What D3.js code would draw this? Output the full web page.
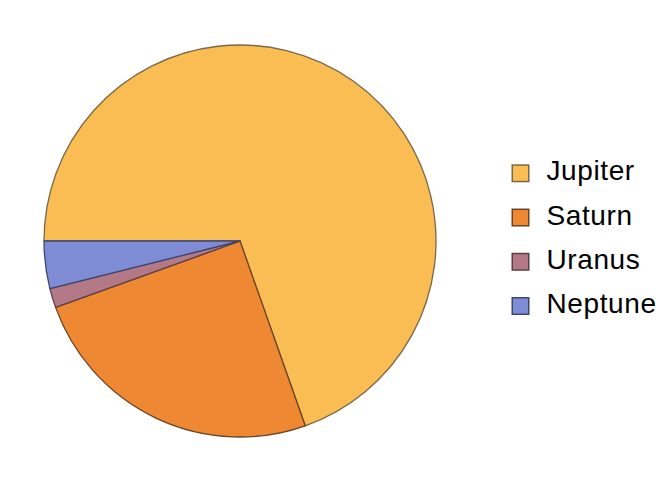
<!DOCTYPE html>
<html>
<head>
<meta charset="utf-8">
<script src="https://cdn.jsdelivr.net/npm/d3@7"></script>
<style>
html,body{margin:0;padding:0;background:#fff;}
svg{display:block;}
</style>
</head>
<body>
<svg id="chart" width="669" height="482"></svg>
<script>
const categories = ["Jupiter", "Saturn", "Uranus", "Neptune"];
const values = [69.6, 24.9, 1.6, 3.9];
const fills = ["#F9BD53", "#EE8833", "#B47986", "#7E8CD6"];
const strokes = ["#7a6848", "#6a4424", "#5c3f47", "#3f4672"];

const svg = d3.select("#chart");
const cx = 240, cy = 241, r = 196;

const pie = d3.pie().sort(null).value(d => d.v)
  .startAngle(-Math.PI / 2).endAngle(3 * Math.PI / 2);
const data = categories.map((c, i) => ({c, v: values[i], i}));
const arcs = pie(data);
const arc = d3.arc().innerRadius(0).outerRadius(r);

const g = svg.append("g").attr("transform", `translate(${cx},${cy})`);
g.selectAll("path").data(arcs).join("path")
  .attr("d", arc)
  .attr("fill", d => fills[d.data.i])
  .attr("stroke", d => strokes[d.data.i])
  .attr("stroke-width", 1.3)
  .attr("stroke-linejoin", "round");

const y = d3.scalePoint().domain(categories).range([173.3, 306]);
const leg = svg.append("g");
const items = leg.selectAll("g").data(categories).join("g")
  .attr("transform", d => `translate(0,${y(d)})`);
items.append("rect")
  .attr("x", 512.25).attr("y", -8.25).attr("width", 16.5).attr("height", 16.5)
  .attr("fill", (d, i) => fills[i])
  .attr("stroke", (d, i) => strokes[i])
  .attr("stroke-width", 1.5);
items.append("text")
  .attr("x", 546.5).attr("y", 7)
  .attr("font-family", "Liberation Sans, Arial, Helvetica, sans-serif")
  .attr("font-size", 28)
  .attr("letter-spacing", 0.6)
  .attr("fill", "#000")
  .text(d => d);
</script>
</body>
</html>
